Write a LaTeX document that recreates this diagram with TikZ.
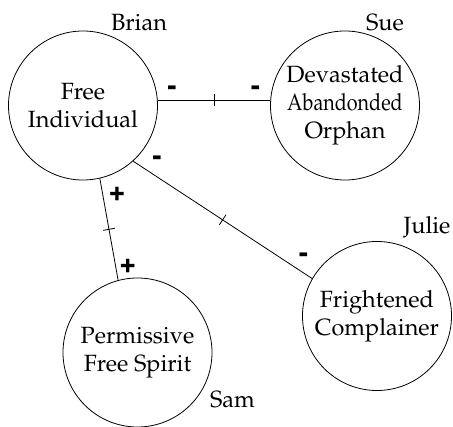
\documentclass[tikz,border=0pt]{standalone}
\usepackage[T1]{fontenc}
\usepackage{mathpazo}
\usepackage{graphicx}
\usetikzlibrary{positioning, decorations.markings}
\tikzstyle{person} = [circle, minimum size=149pt, inner sep=0pt, align=center, draw=black, line width=0.8pt, font=\fontsize{23.5}{28}\selectfont]
\tikzstyle{who} = [inner sep=0pt, font=\fontsize{23.5}{28}\selectfont]
\tikzstyle{sign} = [inner sep=0pt, font=\fontfamily{phv}\fontseries{b}\fontsize{28}{28}\selectfont]
\tikzstyle{link} = [line width=0.8pt, postaction={decorate, decoration={markings, mark=at position 0.5 with {\draw[line width=0.8pt] (0pt,-6pt) -- (0pt,6pt);}}}]

\begin{document}
\begin{tikzpicture}[x=1pt, y=1pt, node distance=262pt]
\useasboundingbox (-83,105.5) rectangle (370,-321.5);

%People
\node (brian) [person] {Free\\Individual};
\node (sue) [person, right of=brian] {Devastated\\\scalebox{0.84}[1]{Abandonded}\\Orphan};
\node (julie) [person, below of=sue, xshift=32pt, yshift=51.5pt] {Frightened\\Complainer};
\node (sam) [person, below of=brian, xshift=54.5pt, yshift=15pt] {Permissive\\Free Spirit};

%Names
\node (brianname) [who, xshift=56pt, yshift=83.5pt] at (brian) {Brian};
\node (suename) [who, xshift=40pt, yshift=83pt] at (sue) {Sue};
\node (juliename) [who, xshift=50pt, yshift=89pt] at (julie) {Julie};
\node (samname) [who, xshift=95pt, yshift=-47pt] at (sam) {Sam};

%links
\draw [link] (brian.4) -- node[sign, pos=0.128, yshift=10pt] (bs1) {-} node[sign, pos=0.87, yshift=10pt] (bs2) {-} (sue.176);
\draw [link] (brian.-48) -- node[sign, pos=0.094, xshift=7pt, yshift=11pt] (bj1) {-} node[sign, pos=0.913, xshift=7pt, yshift=10.5pt] (bj2) {-} (julie.150);
\draw [link] (brian.-77) -- node[sign, pos=0.17, xshift=14pt, yshift=2.5pt] (bm1) {+} node[sign, pos=0.87, xshift=12pt, yshift=2pt] (bm2) {+} (sam.105);

\end{tikzpicture}
\end{document}
